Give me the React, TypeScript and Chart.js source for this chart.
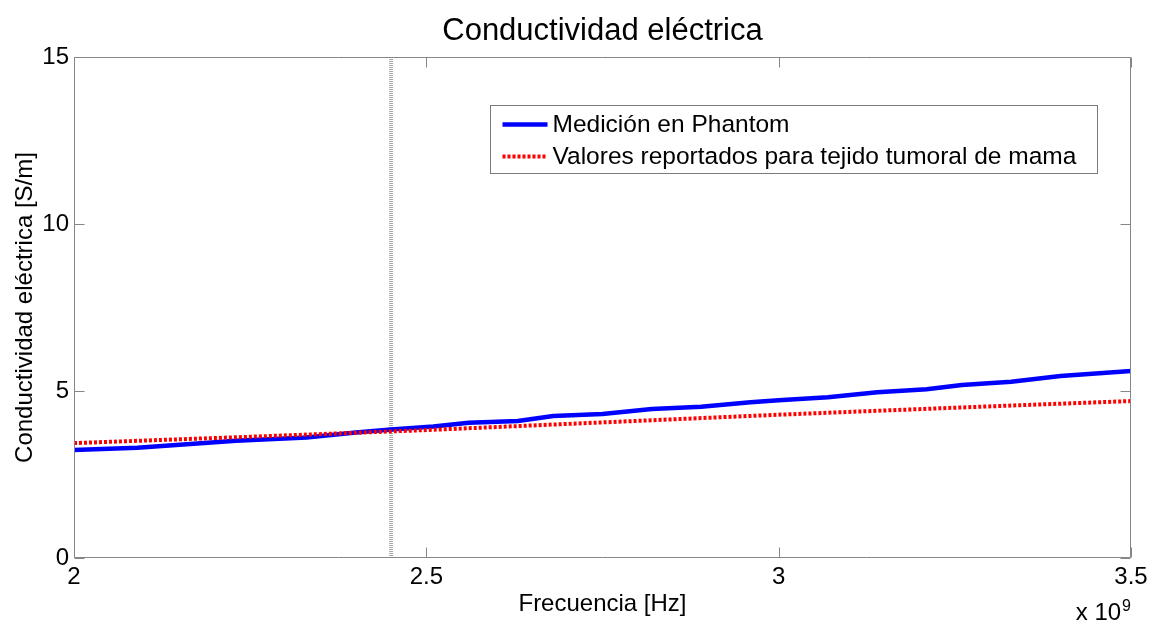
import React, { useEffect, useRef } from 'react';
import { Chart, registerables } from 'chart.js';

Chart.register(...registerables);

// ---------- text ----------
const chartTitle = 'Conductividad eléctrica';
const xAxisTitle = 'Frecuencia [Hz]';
const yAxisTitle = 'Conductividad eléctrica [S/m]';
const xExponentBase = 'x 10';
const xExponent = '9';

// ---------- data (frequency in units of 10^9 Hz, conductivity in S/m) ----------
const freqPhantom = [2.0, 2.09, 2.23, 2.33, 2.4, 2.45, 2.51, 2.56, 2.63, 2.68, 2.75, 2.82, 2.89, 2.96, 3.0, 3.07, 3.14, 3.21, 3.26, 3.33, 3.4, 3.5];
const condPhantom = [3.23, 3.3, 3.51, 3.61, 3.76, 3.85, 3.94, 4.05, 4.1, 4.25, 4.31, 4.46, 4.53, 4.66, 4.72, 4.81, 4.96, 5.05, 5.18, 5.28, 5.45, 5.6];

const freqTumor = [2.0, 2.25, 2.5, 2.75, 3.0, 3.25, 3.5];
const condTumor = [3.44, 3.63, 3.83, 4.06, 4.29, 4.5, 4.7];

const markerFreq = [2.45, 2.45];
const markerCond = [0, 15];

const xTickValues = [2, 2.5, 3, 3.5];
const xTickLabels = ['2', '2.5', '3', '3.5'];
const yTickValues = [0, 5, 10, 15];
const yTickLabels = ['0', '5', '10', '15'];

const seriesLabels = ['Medición en Phantom', 'Valores reportados para tejido tumoral de mama'];

// ---------- style ----------
const FONT = "'Liberation Sans', Arial, Helvetica, sans-serif";
const AXIS_COLOR = '#868686';

const toPoints = (xs: number[], ys: number[]) => xs.map((x, i) => ({ x, y: ys[i] }));

const matlabPlugin = {
  id: 'matlabAxes',
  afterDatasetsDraw(chart: any) {
    const { ctx, chartArea: a, scales } = chart;
    const xs = scales.x;
    const ys = scales.y;
    const L = Math.round(a.left) + 0.5;
    const R = Math.round(a.right) - 0.5;
    const T = Math.round(a.top) + 0.5;
    const B = Math.round(a.bottom) - 0.5;
    const tl = 10;
    ctx.save();
    ctx.strokeStyle = AXIS_COLOR;
    ctx.lineWidth = 1;
    ctx.setLineDash([]);
    ctx.beginPath();
    ctx.rect(L, T, R - L, B - T);
    ctx.stroke();
    ctx.beginPath();
    xs.ticks.forEach((t: any) => {
      const px = Math.round(xs.getPixelForValue(t.value)) + 0.5;
      ctx.moveTo(px, B);
      ctx.lineTo(px, B - tl);
      ctx.moveTo(px, T);
      ctx.lineTo(px, T + tl);
    });
    ys.ticks.forEach((t: any) => {
      const py = Math.round(ys.getPixelForValue(t.value)) + 0.5;
      ctx.moveTo(L, py);
      ctx.lineTo(L + tl, py);
      ctx.moveTo(R, py);
      ctx.lineTo(R - tl, py);
    });
    ctx.stroke();
    ctx.restore();
  },
  afterDraw(chart: any) {
    const { ctx, chartArea: a } = chart;
    ctx.save();
    // title
    ctx.fillStyle = '#000';
    ctx.font = `31px ${FONT}`;
    ctx.textAlign = 'center';
    ctx.textBaseline = 'alphabetic';
    ctx.fillText(chartTitle, (a.left + a.right) / 2, 40);

    // exponent label
    ctx.font = `16px ${FONT}`;
    const w9 = ctx.measureText(xExponent).width;
    const x9 = a.right - w9;
    ctx.textAlign = 'left';
    ctx.fillText(xExponent, x9, 611);
    ctx.font = `24px ${FONT}`;
    ctx.textAlign = 'right';
    ctx.fillText(xExponentBase, x9 - 1, 620);

    // legend
    const items = chart.data.datasets.filter((d: any) => d.inLegend);
    items.sort((p: any, q: any) => p.legendIndex - q.legendIndex);
    ctx.font = `24.5px ${FONT}`;
    const maxW = Math.max(...items.map((d: any) => ctx.measureText(d.label).width));
    const boxL = Math.round(a.left + 416) + 0.5;
    const boxT = Math.round(a.top + 48) + 0.5;
    const boxW = Math.round(12 + 45 + 6 + maxW + 20);
    const boxH = 68;
    ctx.fillStyle = '#fff';
    ctx.fillRect(boxL, boxT, boxW, boxH);
    ctx.strokeStyle = '#7a7a7a';
    ctx.lineWidth = 1;
    ctx.setLineDash([]);
    ctx.strokeRect(boxL, boxT, boxW, boxH);
    items.forEach((d: any, i: number) => {
      const ry = boxT + 19 + i * 32;
      ctx.save();
      ctx.strokeStyle = d.borderColor;
      ctx.lineWidth = d.borderWidth;
      ctx.lineCap = 'butt';
      ctx.setLineDash(d.borderDash || []);
      ctx.beginPath();
      ctx.moveTo(boxL + 12, ry);
      ctx.lineTo(boxL + 57, ry);
      ctx.stroke();
      ctx.restore();
      ctx.fillStyle = '#000';
      ctx.textAlign = 'left';
      ctx.textBaseline = 'middle';
      ctx.fillText(d.label, boxL + 62, ry + 1);
    });
    ctx.restore();
  },
};

export default function App() {
  const canvasRef = useRef<HTMLCanvasElement | null>(null);

  useEffect(() => {
    if (!canvasRef.current) return;
    const chart = new Chart(canvasRef.current, {
      type: 'line',
      data: {
        datasets: [
          {
            label: seriesLabels[0],
            data: toPoints(freqPhantom, condPhantom),
            borderColor: '#0000ff',
            borderWidth: 4.5,
            pointRadius: 0,
            tension: 0,
            order: 1,
            inLegend: true,
            legendIndex: 0,
          } as any,
          {
            label: seriesLabels[1],
            data: toPoints(freqTumor, condTumor),
            borderColor: '#ff0000',
            borderWidth: 4,
            borderDash: [3, 2],
            borderCapStyle: 'butt',
            pointRadius: 0,
            tension: 0,
            order: 0,
            inLegend: true,
            legendIndex: 1,
          } as any,
          {
            label: 'marker',
            data: toPoints(markerFreq, markerCond),
            borderColor: '#a6a6a6',
            borderWidth: 4,
            borderDash: [1, 1],
            borderCapStyle: 'butt',
            pointRadius: 0,
            order: 2,
            inLegend: false,
          } as any,
        ],
      },
      options: {
        animation: false,
        responsive: false,
        maintainAspectRatio: false,
        parsing: false as any,
        layout: { padding: { top: 57, right: 30, left: 0, bottom: 0 } },
        plugins: {
          legend: { display: false },
          tooltip: { enabled: false },
          title: { display: false },
        },
        scales: {
          x: {
            type: 'linear',
            min: 2,
            max: 3.5,
            afterBuildTicks: (scale: any) => {
              scale.ticks = xTickValues.map((v) => ({ value: v }));
            },
            afterFit: (scale: any) => {
              scale.height = 68;
            },
            grid: { display: false, drawTicks: false },
            border: { display: false },
            ticks: {
              callback: (_v: any, i: number) => xTickLabels[i],
              font: { family: FONT, size: 24 },
              color: '#000',
              padding: 5,
              maxRotation: 0,
              autoSkip: false,
            },
            title: {
              display: true,
              text: xAxisTitle,
              font: { family: FONT, size: 24 },
              color: '#000',
              padding: { top: 0, bottom: 7 },
            },
          },
          y: {
            type: 'linear',
            min: 0,
            max: 15,
            afterBuildTicks: (scale: any) => {
              scale.ticks = yTickValues.map((v) => ({ value: v }));
            },
            afterFit: (scale: any) => {
              scale.width = 74;
            },
            grid: { display: false, drawTicks: false },
            border: { display: false },
            ticks: {
              callback: (_v: any, i: number) => yTickLabels[i],
              font: { family: FONT, size: 24 },
              color: '#000',
              padding: 5,
              autoSkip: false,
            },
            title: {
              display: true,
              text: yAxisTitle,
              font: { family: FONT, size: 24 },
              color: '#000',
              padding: { top: 11, bottom: 0 },
            },
          },
        },
      } as any,
      plugins: [matlabPlugin],
    });
    return () => chart.destroy();
  }, []);

  return (
    <div style={{ position: 'absolute', left: 0, top: 0, width: 1161, height: 626, background: '#fff' }}>
      <canvas ref={canvasRef} width={1161} height={626} style={{ display: 'block' }} />
    </div>
  );
}
